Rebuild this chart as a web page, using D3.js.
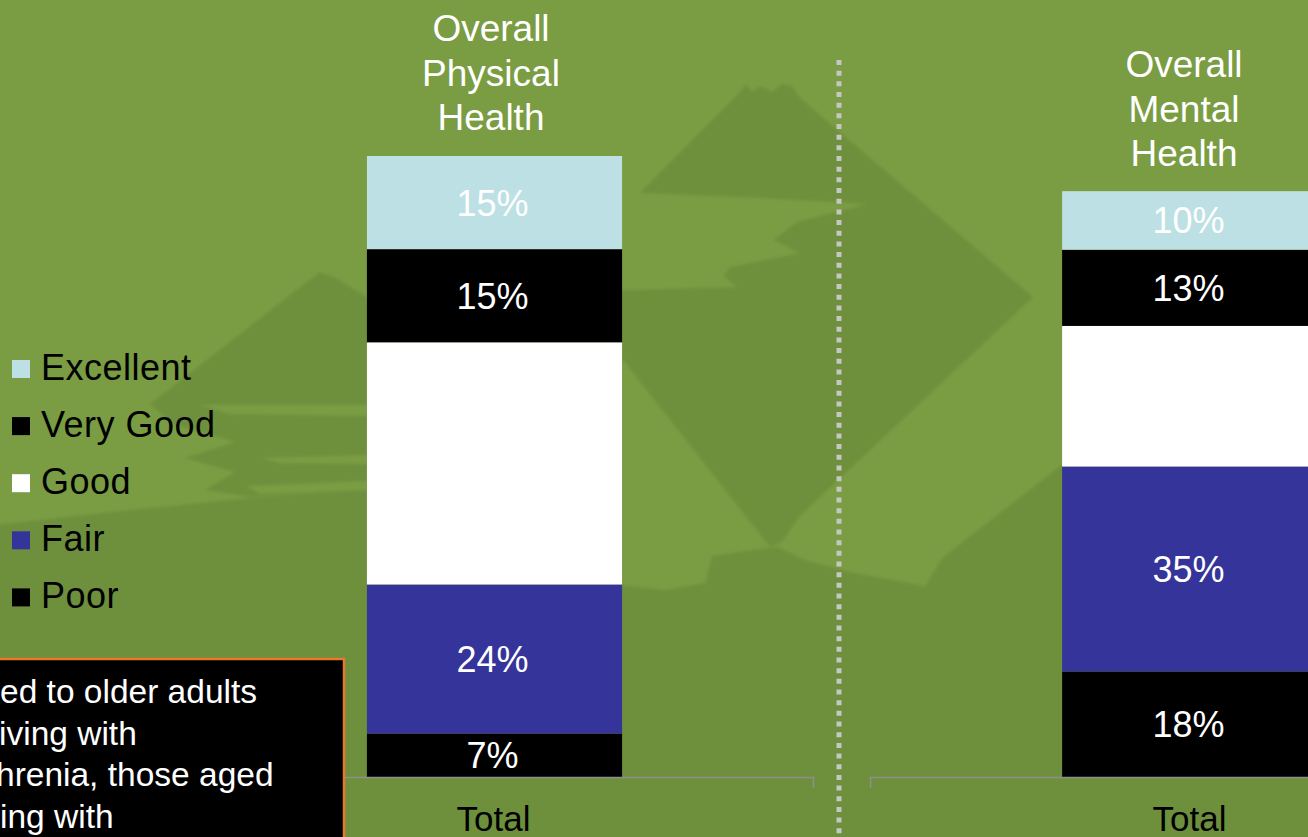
<!DOCTYPE html>
<html>
<head>
<meta charset="utf-8">
<script src="https://cdn.jsdelivr.net/npm/d3@7"></script>
<style>
  html, body { margin: 0; padding: 0; background: #7a9c42; overflow: hidden; }
  svg { display: block; font-family: "Liberation Sans", Arial, sans-serif; }
</style>
</head>
<body>
<svg id="chart" width="1308" height="837"></svg>
<script>
// ---- data ----
const categories = ["Total"];
const levels = ["Excellent", "Very Good", "Good", "Fair", "Poor"];
const levelColors = ["#bde0e4", "#000000", "#ffffff", "#35349a", "#000000"];
const physicalValues = [15, 15, 39, 24, 7];
const mentalValues = [10, 13, 24, 35, 18];
const physicalTitle = ["Overall", "Physical", "Health"];
const mentalTitle = ["Overall", "Mental", "Health"];
const noteLines = ["ed to older adults", "iving with", "hrenia, those aged", "ing with"];

const W = 1308, H = 837;
const svg = d3.select("#chart");
const font = '"Liberation Sans", Arial, sans-serif';

// ---- decorative landscape backdrop ----
const bgLight = "#7a9c42", bgDark = "#6e903c";
const defs = svg.append("defs");
defs.append("filter").attr("id", "soft").append("feGaussianBlur").attr("stdDeviation", 1.4);
defs.append("filter").attr("id", "halo").append("feGaussianBlur").attr("stdDeviation", 2.2);

const backdrop = svg.append("g").attr("filter", "url(#soft)");
backdrop.append("rect").attr("x", -5).attr("y", -5).attr("width", W + 10).attr("height", H + 10).attr("fill", bgLight);
const darkShapes = [
  // small mountain on the left and its reflection
  "M150,404 L240,334 L300,287 L320,272 L336,278 L367,297 L622,292 L622,480 L367,488 L250,497 L205,490 L235,472 L185,458 L235,442 L172,424 Z",
  // large mountain with reflection
  "M640,193 L700,132 L740,92 L746,84 L752,92 L760,86 L772,92 L782,84 L792,86 L800,98 L1033,297 L800,516 L782,542 L770,547 L623,360 L560,300 L560,290 Z",
  // foreground shore and water
  "M-5,525 L120,511 L250,498 L367,488 L622,480 L622,585 L665,590 L705,583 L712,556 L745,551 L778,547 L805,560 L850,572 L925,586 L942,558 L1063,464 L1313,262 L1313,842 L-5,842 Z"
];
backdrop.selectAll("path.dark").data(darkShapes).join("path")
  .attr("class", "dark").attr("d", d => d).attr("fill", bgDark);
const lightShapes = [
  // water band below the large mountain
  "M560,190 L640,193 L760,198 L867,204 L797,222 L773,240 L800,253 L730,267 L723,276 L737,287 L623,290 L560,290 Z",
  // ripples below the small mountain
  "M200,405 L367,405 L367,416 L230,414 Z",
  "M262,458 L367,455 L367,464 L280,463 Z",
  "M247,486 L367,481 L367,490 L260,494 Z"
];
backdrop.selectAll("path.light").data(lightShapes).join("path")
  .attr("class", "light").attr("d", d => d).attr("fill", bgLight);

// ---- divider between the two charts ----
const divider = svg.append("g");
divider.append("line")
  .attr("x1", 839).attr("x2", 839).attr("y1", 58).attr("y2", H)
  .attr("stroke", "#55702d").attr("stroke-width", 8).attr("opacity", 0.55)
  .attr("filter", "url(#halo)");
divider.append("line")
  .attr("x1", 839).attr("x2", 839).attr("y1", 60).attr("y2", H)
  .attr("stroke", "#c6c6c6").attr("stroke-width", 5)
  .attr("stroke-dasharray", "5 5.67");

// ---- one stacked-bar chart ----
function drawChart(opts) {
  const g = svg.append("g");
  const row = { category: categories[0] };
  levels.forEach((k, i) => row[k] = opts.values[i]);

  const x = d3.scaleBand().domain(categories)
    .range(opts.xRange).paddingInner(0.428).paddingOuter(0.428);
  const y = d3.scaleLinear().domain([0, opts.yMax]).range([777, 156]);
  const color = d3.scaleOrdinal().domain(levels).range(levelColors);

  const stackKeys = levels.slice().reverse();
  const series = d3.stack().keys(stackKeys)([row]);

  const segs = g.selectAll("g.seg").data(series).join("g").attr("class", "seg");
  segs.append("rect")
    .attr("x", x(categories[0]))
    .attr("width", x.bandwidth())
    .attr("y", d => y(d[0][1]))
    .attr("height", d => y(d[0][0]) - y(d[0][1]))
    .attr("fill", d => color(d.key));

  segs.filter(d => color(d.key) !== "#ffffff").append("text")
    .attr("x", x(categories[0]) + x.bandwidth() / 2 - 2)
    .attr("y", d => (y(d[0][0]) + y(d[0][1])) / 2 + 13)
    .attr("text-anchor", "middle")
    .attr("font-size", 36)
    .attr("fill", "#ffffff")
    .text(d => d3.format(".0f")(d[0][1] - d[0][0]) + "%");

  // category axis
  const axis = d3.axisBottom(x).tickSizeInner(0).tickSizeOuter(11).tickPadding(29);
  const ax = g.append("g").attr("transform", "translate(0,777)").call(axis);
  ax.select(".domain").attr("stroke", "#8e8e8e").attr("stroke-width", 1.6);
  ax.selectAll(".tick text")
    .attr("font-size", 35).attr("font-family", font).attr("fill", "#000")
    .attr("dx", -1);

  // title above the bar
  g.append("text")
    .attr("text-anchor", "middle").attr("font-size", 37).attr("fill", "#ffffff")
    .selectAll("tspan").data(opts.title).join("tspan")
    .attr("x", opts.titleX)
    .attr("y", (d, i) => opts.titleY + i * 44.5)
    .text(d => d);
}

drawChart({ values: physicalValues, yMax: 100, xRange: [176, 813], titleX: 491, titleY: 41, title: physicalTitle });
drawChart({ values: mentalValues, yMax: 106, xRange: [870, 1511], titleX: 1184, titleY: 77, title: mentalTitle });

// ---- legend ----
const legend = svg.append("g").attr("transform", "translate(12,369)");
const items = legend.selectAll("g").data(levels).join("g")
  .attr("transform", (d, i) => `translate(0,${i * 57.1})`);
items.append("rect").attr("x", 0).attr("y", -9).attr("width", 18).attr("height", 18)
  .attr("fill", (d, i) => levelColors[i]);
items.append("text").attr("x", 29).attr("y", 10.5)
  .attr("font-size", 36).attr("letter-spacing", 0.5).attr("fill", "#000").text(d => d);

// ---- note box ----
const note = svg.append("g");
note.append("rect")
  .attr("x", -10).attr("y", 659).attr("width", 354).attr("height", 200)
  .attr("fill", "#000").attr("stroke", "#e8782c").attr("stroke-width", 2.5);
const noteX = [0, -1, -4, 0];
note.append("text").attr("font-size", 33.5).attr("fill", "#fff")
  .selectAll("tspan").data(noteLines).join("tspan")
  .attr("x", (d, i) => noteX[i])
  .attr("y", (d, i) => 703 + i * 41.7)
  .text(d => d);
</script>
</body>
</html>
